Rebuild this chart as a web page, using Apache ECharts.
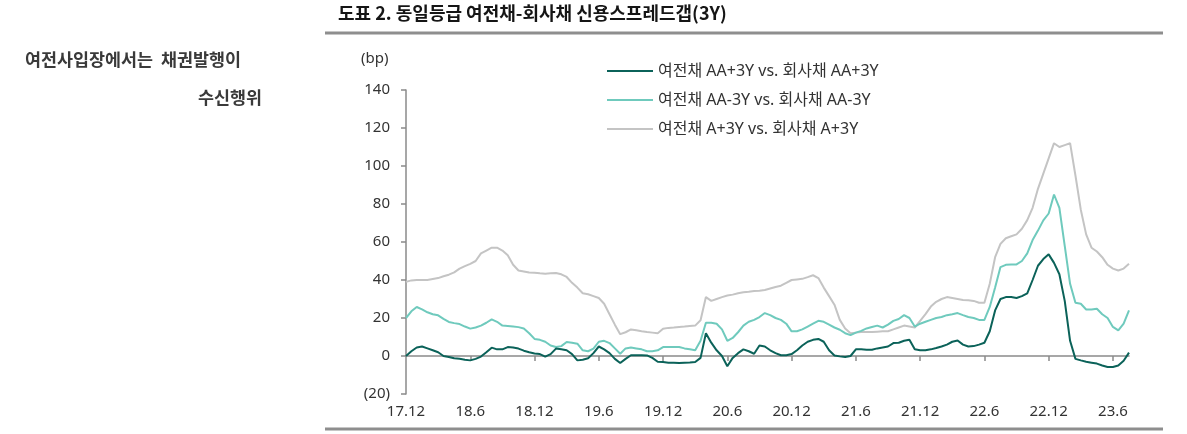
<!DOCTYPE html>
<html>
<head>
<meta charset="utf-8">
<script src="https://cdn.jsdelivr.net/npm/echarts@6/dist/echarts.min.js"></script>
<style>
  html, body { margin: 0; padding: 0; background: #fff; }
  #chart { width: 1187px; height: 434px; }
</style>
</head>
<body>
<div id="chart"></div>
<script>
// 반월 단위 (1일, 16일)
const dates = [
  '2017-12-01','2017-12-16',
  '2018-01-01','2018-01-16','2018-02-01','2018-02-16','2018-03-01','2018-03-16','2018-04-01','2018-04-16',
  '2018-05-01','2018-05-16','2018-06-01','2018-06-16','2018-07-01','2018-07-16','2018-08-01','2018-08-16',
  '2018-09-01','2018-09-16','2018-10-01','2018-10-16','2018-11-01','2018-11-16','2018-12-01','2018-12-16',
  '2019-01-01','2019-01-16','2019-02-01','2019-02-16','2019-03-01','2019-03-16','2019-04-01','2019-04-16',
  '2019-05-01','2019-05-16','2019-06-01','2019-06-16','2019-07-01','2019-07-16','2019-08-01','2019-08-16',
  '2019-09-01','2019-09-16','2019-10-01','2019-10-16','2019-11-01','2019-11-16','2019-12-01','2019-12-16',
  '2020-01-01','2020-01-16','2020-02-01','2020-02-16','2020-03-01','2020-03-16','2020-04-01','2020-04-16',
  '2020-05-01','2020-05-16','2020-06-01','2020-06-16','2020-07-01','2020-07-16','2020-08-01','2020-08-16',
  '2020-09-01','2020-09-16','2020-10-01','2020-10-16','2020-11-01','2020-11-16','2020-12-01','2020-12-16',
  '2021-01-01','2021-01-16','2021-02-01','2021-02-16','2021-03-01','2021-03-16','2021-04-01','2021-04-16',
  '2021-05-01','2021-05-16','2021-06-01','2021-06-16','2021-07-01','2021-07-16','2021-08-01','2021-08-16',
  '2021-09-01','2021-09-16','2021-10-01','2021-10-16','2021-11-01','2021-11-16','2021-12-01','2021-12-16',
  '2022-01-01','2022-01-16','2022-02-01','2022-02-16','2022-03-01','2022-03-16','2022-04-01','2022-04-16',
  '2022-05-01','2022-05-16','2022-06-01','2022-06-16','2022-07-01','2022-07-16','2022-08-01','2022-08-16',
  '2022-09-01','2022-09-16','2022-10-01','2022-10-16','2022-11-01','2022-11-16','2022-12-01','2022-12-16',
  '2023-01-01','2023-01-16','2023-02-01','2023-02-16','2023-03-01','2023-03-16','2023-04-01','2023-04-16',
  '2023-05-01','2023-05-16','2023-06-01','2023-06-16','2023-07-01','2023-07-16'
];

const seriesNames = [
  '여전채 AA+3Y vs. 회사채 AA+3Y',
  '여전채 AA-3Y vs. 회사채 AA-3Y',
  '여전채 A+3Y vs. 회사채 A+3Y'
];

// 여전채 AA+ - 회사채 AA+ (bp)
const aaPlus = [
  0, 2.5, 4.5, 5, 4, 3, 2, 0, -0.5, -1.2, -1.5, -2, -2.3, -1.5, -0.3, 2, 4.4, 3.5, 3.5, 4.7,
  4.5, 3.9, 2.8, 2, 1.3, 1, -0.3, 1, 3.9, 3.5, 3, 1, -2.3, -2, -1.2, 1.5, 5, 3.5, 1.5, -1.5,
  -3.7, -1.5, 0.4, 0.4, 0.4, 0.3, -1, -3, -3.2, -3.5, -3.5, -3.7, -3.5, -3.4, -3.2, -1, 12, 7, 3, 0,
  -5.4, -1, 1.5, 3.5, 2.5, 1.2, 5.5, 5, 3, 1.5, 0.4, 0.4, 1, 3, 5.5, 7.5, 8.5, 9, 7.5, 3,
  0.3, -0.2, -0.5, 0, 3.5, 3.5, 3.3, 3.3, 4, 4.5, 5, 6.8, 7, 8, 8.6, 3.5, 3, 3, 3.5, 4.2,
  5, 6, 7.5, 8.2, 6, 5, 5.2, 6, 7, 13, 24, 30, 31, 31, 30.5, 31.5, 33, 40, 47.5, 51,
  53.5, 49, 43, 29, 8, -1.5, -2.3, -3, -3.5, -4, -5, -5.8, -5.8, -5, -2.5, 1.8
];

// 여전채 AA- - 회사채 AA- (bp)
const aaMinus = [
  20, 23.5, 25.8, 24.5, 23, 22, 21.4, 19.5, 17.9, 17.3, 16.8, 15.5, 14.4, 15, 16, 17.5, 19.3, 18, 16, 15.8,
  15.5, 15.2, 14.5, 12, 9, 8.5, 7.5, 5.5, 4.7, 5.2, 7.4, 7, 6.5, 3, 2.5, 3.9, 7.5, 8, 6.8, 4,
  1.2, 4, 4.5, 4, 3.5, 2.5, 2.5, 3, 4.7, 4.7, 4.7, 4.7, 4, 3.5, 3, 8, 17.5, 17.5, 17, 14,
  8, 9.5, 12.5, 16, 18, 19, 20.5, 22.6, 21.5, 20, 19, 17, 13, 13, 14, 15.5, 17, 18.5, 18, 16.5,
  15, 13.8, 12, 11, 12.3, 13.2, 14.5, 15.3, 16, 15, 16.5, 18.5, 19.5, 21.5, 20, 15.5, 17, 18, 19, 20,
  20.5, 21.5, 22, 22.6, 21.5, 20.5, 20, 19, 19, 25.8, 36, 46.8, 48, 48.2, 48.2, 50, 54, 61, 66, 71.4,
  75, 85, 78, 58, 38, 28, 27.5, 24.5, 24.5, 24.9, 22, 20, 15.3, 13.5, 17, 24
];

// 여전채 A+ - 회사채 A+ (bp)
const aPlus = [
  39, 39.8, 40, 40, 40, 40.5, 41, 42, 42.8, 44, 46, 47.3, 48.5, 50, 54, 55.5, 57, 57, 55.5, 53,
  48, 45, 44.5, 44, 43.8, 43.5, 43.3, 43.5, 43.7, 43, 41.6, 38.5, 36, 33, 32.5, 31.5, 30.5, 27.5, 22, 16.5,
  11.5, 12.5, 14, 13.5, 13, 12.6, 12.3, 12, 14.4, 14.8, 15, 15.3, 15.5, 15.8, 16, 18.8, 31, 29, 30, 31,
  31.8, 32.3, 33, 33.5, 33.8, 34.2, 34.4, 34.7, 35.5, 36.3, 37, 38.5, 40, 40.3, 40.6, 41.5, 42.5, 41, 36, 31.5,
  27, 19, 14.5, 12, 12.3, 12.6, 12.6, 12.6, 12.8, 13, 13, 14, 15, 16, 15.5, 15, 18.5, 22, 26, 28.5,
  30, 31, 30.5, 30, 29.5, 29.3, 29, 28, 28, 38, 52, 59, 62, 63, 64, 67, 71.5, 78, 88, 96,
  104, 112, 110, 111, 112, 95, 77, 64, 57, 55, 52, 48, 46, 45, 46, 48.5
];

const colors = ['#0b6259', '#6fcabd', '#c4c4c4'];

const chart = echarts.init(document.getElementById('chart'));

// 라벨: 2017-12-01 -> 17.12
const fmtDate = (v) => {
  const p = v.split('-');
  return p[0].slice(2) + '.' + Number(p[1]);
};
const showTick = (idx) => idx % 12 === 0;

const makeLine = (name, data, color, z) => ({
  name: name,
  type: 'line',
  data: data,
  symbol: 'none',
  z: z,
  itemStyle: { color: color },
  lineStyle: { width: 2, color: color }
});

const option = {
  animation: false,
  textStyle: { fontFamily: '"Noto Sans", "Noto Sans CJK KR", sans-serif' },
  title: {
    text: '도표 2. 동일등급 여전채-회사채 신용스프레드갭(3Y)',
    left: 338,
    top: 4,
    padding: 0,
    textStyle: {
      fontFamily: '"Noto Sans CJK KR", sans-serif',
      fontSize: 18,
      fontWeight: 'bold',
      color: '#151515'
    }
  },
  graphic: [
    { type: 'line', shape: { x1: 325, y1: 33, x2: 1163, y2: 33 }, style: { stroke: '#8e8e8e', lineWidth: 3 } },
    { type: 'line', shape: { x1: 325, y1: 429, x2: 1163, y2: 429 }, style: { stroke: '#8e8e8e', lineWidth: 3 } },
    {
      type: 'text', left: 25, top: 51,
      style: { text: '여전사입장에서는  채권발행이', font: 'bold 17.4px "Noto Sans CJK KR"', fill: '#3a3a3a' }
    },
    {
      type: 'text', right: 1187 - 262, top: 89,
      style: { text: '수신행위', font: 'bold 17.4px "Noto Sans CJK KR"', fill: '#3a3a3a', textAlign: 'right' }
    },
    {
      type: 'text', left: 361, top: 51,
      style: { text: '(bp)', font: '15px "Noto Sans"', fill: '#333' }
    }
  ],
  legend: {
    orient: 'vertical',
    left: 607,
    top: 63,
    padding: 0,
    itemWidth: 46,
    itemHeight: 14,
    itemGap: 13,
    icon: 'path://M0,0 L46,0 L46,2 L0,2 Z',
    textStyle: { fontSize: 16, color: '#333', fontFamily: '"Noto Sans", "Noto Sans CJK KR", sans-serif' },
    data: seriesNames
  },
  grid: { left: 406, right: 58, top: 90, bottom: 40 },
  xAxis: [
    {
      type: 'category',
      data: dates,
      boundaryGap: false,
      position: 'bottom',
      axisLine: { show: false, onZero: false },
      axisTick: { show: false },
      axisLabel: {
        interval: 11,
        margin: 10,
        fontSize: 15,
        color: '#333',
        formatter: fmtDate
      }
    },
    {
      type: 'category',
      data: dates,
      boundaryGap: false,
      position: 'top',
      axisLine: { onZero: true, lineStyle: { color: '#8a8a8a', width: 1.5 } },
      axisTick: { inside: true, length: 5, interval: (i) => showTick(i) && i > 0, lineStyle: { color: '#8a8a8a', width: 1.5 } },
      axisLabel: { show: false }
    }
  ],
  yAxis: {
    type: 'value',
    min: -20,
    max: 140,
    interval: 20,
    axisLine: { show: true, lineStyle: { color: '#8a8a8a', width: 1.5 } },
    axisTick: { show: true, length: 5, lineStyle: { color: '#8a8a8a', width: 1.5 } },
    splitLine: { show: false },
    axisLabel: {
      margin: 16,
      fontSize: 15,
      color: '#333',
      formatter: (v) => (v < 0 ? '(' + Math.abs(v) + ')' : String(v))
    }
  },
  series: [
    makeLine(seriesNames[2], aPlus, colors[2], 1),
    makeLine(seriesNames[1], aaMinus, colors[1], 2),
    makeLine(seriesNames[0], aaPlus, colors[0], 3)
  ]
};

chart.setOption(option);
</script>
</body>
</html>
